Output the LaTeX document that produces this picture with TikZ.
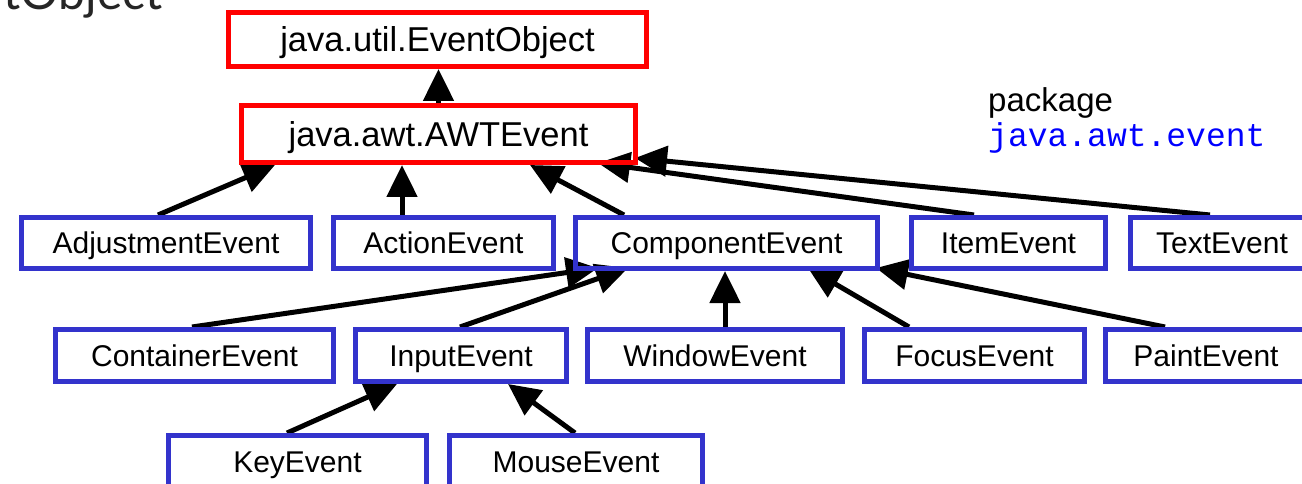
\documentclass[tikz,border=0pt]{standalone}
\usepackage{fontspec}
\setmainfont{Liberation Sans}
\newfontfamily\pkgmono{Liberation Mono}
\newfontfamily\titlefont{Lato}
\usetikzlibrary{arrows.meta}
\definecolor{boxblue}{RGB}{51,51,204}
\definecolor{boxred}{RGB}{255,0,0}
\definecolor{pkgblue}{RGB}{0,0,255}
\pgfdeclarelayer{bg}
\pgfsetlayers{bg,main}
\tikzset{
  cls/.style={draw=boxblue, line width=5pt, inner sep=0pt, outer sep=2.5pt,
    font=\fontsize{30}{36}\selectfont, text height=21.5pt, text depth=0pt},
  topcls/.style={cls, draw=boxred, font=\fontsize{34.5}{40}\selectfont, text height=24.7pt},
  row2/.style={cls, minimum height=51pt},
  row3/.style={cls, minimum height=52pt},
  row4/.style={cls, minimum height=52pt},
  arr/.style={line width=5pt, -{Triangle[length=32pt,width=30pt]}},
}
\begin{document}
\begin{tikzpicture}[x=1pt,y=-1pt]
\useasboundingbox (0,0) rectangle (1302,484);

\node[anchor=base east, font=\titlefont\fontsize{48}{56}\selectfont, inner sep=0pt, text=black!85] (title) at (163,10) {tObject};

\node[topcls, minimum width=418pt, minimum height=54pt] (EO) at (437.5,39.5) {java.util.EventObject};
\node[topcls, minimum width=394pt, minimum height=57pt] (AWT) at (438.5,134) {java.awt.AWTEvent};

\node[row2, minimum width=289pt] (ADJ) at (166,243) {AdjustmentEvent};
\node[row2, minimum width=220pt] (ACT) at (443.5,243) {ActionEvent};
\node[row2, minimum width=302pt] (COMP) at (726.5,243) {ComponentEvent};
\node[row2, minimum width=194pt] (ITEM) at (1008.5,243) {ItemEvent};
\node[row2, minimum width=183pt] (TEXT) at (1222,243) {TextEvent};

\node[row3, minimum width=278pt] (CONT) at (194.5,355.5) {ContainerEvent};
\node[row3, minimum width=211pt] (INPUT) at (461,355.5) {InputEvent};
\node[row3, minimum width=255pt] (WIN) at (715,355.5) {WindowEvent};
\node[row3, minimum width=220pt] (FOCUS) at (974.5,355.5) {FocusEvent};
\node[row3, minimum width=201pt] (PAINT) at (1206,355.5) {PaintEvent};

\node[row4, minimum width=258pt] (KEY) at (297.5,461.5) {KeyEvent};
\node[row4, minimum width=253pt] (MOUSE) at (576,461.5) {MouseEvent};

\node[anchor=base west, font=\fontsize{33}{40}\selectfont, inner sep=0pt] (pkg) at (988,112) {package};
\node[anchor=base west, font=\pkgmono\fontsize{33}{40}\selectfont, text=pkgblue, inner sep=0pt] (pkgname) at (988,147) {java.awt.event};

\begin{pgfonlayer}{bg}
\draw[arr] (AWT.north) -- (AWT.north |- EO.south);
\draw[arr] ([xshift=-8pt]ADJ.north) -- ([xshift=-163.5pt]AWT.south);
\draw[arr] ([xshift=-41.5pt]ACT.north) -- ([xshift=-36.5pt]AWT.south);
\draw[arr] ([xshift=-102.5pt]COMP.north) -- ([xshift=91.5pt]AWT.south);
\draw[arr] ([xshift=-34.5pt]ITEM.north) -- ([xshift=159.5pt,yshift=2pt]AWT.south);
\draw[arr] ([xshift=-12pt]TEXT.north) -- ([xshift=-3pt,yshift=7pt]AWT.south east);

\draw[arr] ([xshift=-2.5pt]CONT.north) -- ([xshift=-128.5pt,yshift=3pt]COMP.south);
\draw[arr] ([xshift=-1pt]INPUT.north) -- ([xshift=-98.5pt,yshift=3pt]COMP.south);
\draw[arr] ([xshift=10pt]WIN.north) -- ([xshift=-1.5pt]COMP.south);
\draw[arr] ([xshift=-65.5pt]FOCUS.north) -- ([xshift=81.5pt,yshift=3pt]COMP.south);
\draw[arr] ([xshift=-41pt]PAINT.north) -- ([xshift=149.5pt,yshift=3pt]COMP.south);

\draw[arr] ([xshift=-10.5pt]KEY.north) -- ([xshift=-64pt]INPUT.south);
\draw[arr] ([xshift=-1pt]MOUSE.north) -- ([xshift=47pt]INPUT.south);
\end{pgfonlayer}
\end{tikzpicture}
\end{document}
